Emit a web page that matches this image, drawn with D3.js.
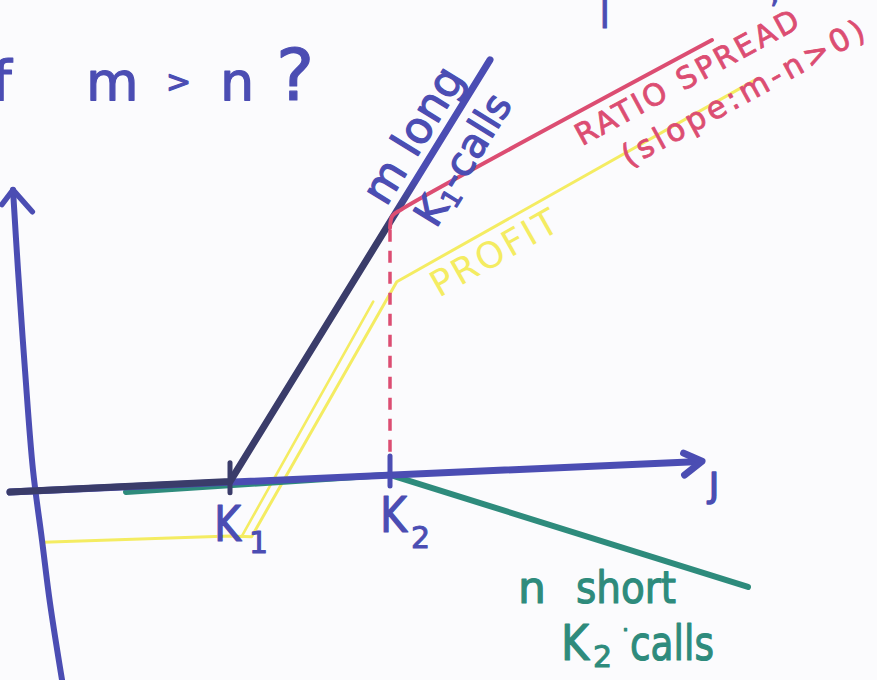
<!DOCTYPE html>
<html>
<head>
<meta charset="utf-8">
<script src="https://cdn.jsdelivr.net/npm/d3@7/dist/d3.min.js"></script>
<style>
  html, body { margin: 0; padding: 0; background: #fbfbfd; overflow: hidden; }
  svg { display: block; }
  text { font-family: "DejaVu Sans", "Noto Sans", sans-serif; }
</style>
</head>
<body>
<svg id="chart" width="877" height="680"></svg>
<script>
// ---- data: underlying price S on x, payoff on y, as [S, payoff] ----
const K1 = 50, K2 = 90;
const strikes = [K1, K2];
const strikeLabels = ["1", "2"];
const xAxisLine   = [[-5, 0], [167.5, 0.4]];
const yAxisLine   = [[-4.25, 75.5], [-3, 55.4], [-1.25, 30.3], [0.75, 5.25], [3, -12.35], [5, -28.2], [8, -47.5]];
const longCalls   = [[-5, 0], [50, 0.3], [115, 103]];
const shortCalls  = [[24, -1.2], [90, 0.3], [179.5, -31.5]];
const ratioSpread = [[90, 62], [90.6, 65], [93, 66.6], [170.5, 105.6]];
const spreadDrop  = [[90, 0.8], [90, 62]];
const profit      = [[3.3, -12.9], [50, -13.3], [55.4, -13.7], [91.7, 48.5], [181.3, 95.2]];
const profitTrace = [[52.9, -13.6], [85.8, 43.8]];
const tickSpan    = [-2.5, 5];

const blue = "#4b4db3", dark = "#3a3c6a", teal = "#2e8b7c", red = "#dc4d72", yellow = "#f4ec62";

const svg = d3.select("#chart");
const x = d3.scaleLinear().domain([0, 170]).range([30, 710]);
const y = d3.scaleLinear().domain([0, 100]).range([492.4, 92.4]);
// the hand-drawn S axis climbs slightly to the right
const tilt = -0.042;
const px = d => x(d[0]);
const py = d => y(d[1]) + tilt * x(d[0]);
const line = d3.line().x(px).y(py);

const defs = svg.append("defs");
function chevron(id, d, color, w) {
  defs.append("marker")
    .attr("id", id)
    .attr("markerUnits", "userSpaceOnUse")
    .attr("viewBox", "-40 -40 80 80")
    .attr("markerWidth", 80).attr("markerHeight", 80)
    .attr("refX", 0).attr("refY", 0)
    .attr("orient", "auto-start-reverse")
    .append("path")
    .attr("d", d)
    .attr("fill", "none")
    .attr("stroke", color)
    .attr("stroke-width", w)
    .attr("stroke-linecap", "round")
    .attr("stroke-linejoin", "round");
}
chevron("arrowS", "M-16,-9L2,0L-16,13", blue, 7);
chevron("arrowP", "M-14,-12L0,0L-23,18", blue, 5.5);

// long-call line darkens below the K2 level
const at = t => [longCalls[1][0] + (longCalls[2][0] - longCalls[1][0]) * t,
                 longCalls[1][1] + (longCalls[2][1] - longCalls[1][1]) * t];
const grad = defs.append("linearGradient")
  .attr("id", "longGrad")
  .attr("gradientUnits", "userSpaceOnUse")
  .attr("x1", 0).attr("x2", 0)
  .attr("y1", py(at(0.72)))
  .attr("y2", py(at(0.6)));
grad.append("stop").attr("offset", 0).attr("stop-color", blue);
grad.append("stop").attr("offset", 1).attr("stop-color", dark);

function path(data, color, w, extra) {
  const p = svg.append("path")
    .datum(data)
    .attr("d", line)
    .attr("fill", "none")
    .attr("stroke", color)
    .attr("stroke-width", w)
    .attr("stroke-linecap", "round")
    .attr("stroke-linejoin", "round");
  if (extra) extra(p);
  return p;
}

// profit (yellow)
path(profit, yellow, 3);
path(profitTrace, yellow, 2.6);

// short K2 calls
path(shortCalls, teal, 6);

// axes
path(xAxisLine, blue, 7, p => p.attr("marker-end", "url(#arrowS)"));
svg.append("path")
  .datum(yAxisLine)
  .attr("d", d3.line().x(px).y(py).curve(d3.curveCatmullRom))
  .attr("fill", "none")
  .attr("stroke", blue)
  .attr("stroke-width", 6)
  .attr("stroke-linecap", "round")
  .attr("marker-start", "url(#arrowP)");

// long K1 calls
path(longCalls, "url(#longGrad)", 7);

// ratio spread
path(spreadDrop, red, 3.5, p => p.attr("stroke-dasharray", "12 9").attr("stroke-linecap", "butt"));
svg.append("path")
  .datum(ratioSpread)
  .attr("d", d3.line().x(px).y(py).curve(d3.curveCatmullRom))
  .attr("fill", "none")
  .attr("stroke", red)
  .attr("stroke-width", 4)
  .attr("stroke-linecap", "round");

// strike ticks
svg.selectAll("line.tick")
  .data(strikes)
  .join("line")
  .attr("class", "tick")
  .attr("x1", k => px([k, tickSpan[1]])).attr("y1", k => py([k, tickSpan[1]]))
  .attr("x2", k => px([k, tickSpan[0]])).attr("y2", k => py([k, tickSpan[0]]))
  .attr("stroke", (k, i) => i === 0 ? dark : blue)
  .attr("stroke-width", 5)
  .attr("stroke-linecap", "round");

// ---- labels ----
function ink(sel, color, w) {
  return sel.attr("fill", color).attr("stroke", color)
    .attr("stroke-width", w).attr("stroke-linejoin", "round");
}

// label placed along a segment a→b at fraction t, shifted dy across it
function along(a, b, t, dy) {
  const x0 = px(a), y0 = py(a), x1 = px(b), y1 = py(b);
  const ang = Math.atan2(y1 - y0, x1 - x0) * 180 / Math.PI;
  const g = svg.append("g")
    .attr("transform", `translate(${x0 + (x1 - x0) * t},${y0 + (y1 - y0) * t}) rotate(${ang})`);
  return g.append("text").attr("y", dy);
}

ink(along(longCalls[1], longCalls[2], 0.636, -11), blue, 1.2)
  .attr("font-size", 44).text("m long");

{
  const t = ink(along(longCalls[1], longCalls[2], 0.652, 43), blue, 1.2).attr("font-size", 40);
  t.append("tspan").text("K");
  t.append("tspan").attr("font-size", 26).attr("dy", 6).text("1");
  t.append("tspan").attr("dy", -6).text("-calls");
}

ink(along(ratioSpread[2], ratioSpread[3], 0.533, 31), red, 0.8)
  .attr("font-size", 30).attr("textLength", 250).attr("lengthAdjust", "spacing")
  .text("RATIO SPREAD");
ink(along(ratioSpread[2], ratioSpread[3], 0.62, 72), red, 0.8)
  .attr("font-size", 31).attr("textLength", 272).attr("lengthAdjust", "spacing")
  .text("(slope:m-n>0)");

along(profit[3], profit[4], 0.07, 35)
  .attr("fill", yellow).attr("font-size", 36)
  .attr("font-family", "'Open Sans', Lato, sans-serif")
  .attr("textLength", 140).attr("lengthAdjust", "spacing")
  .text("PROFIT");

// strike labels under the S axis
strikes.forEach((k, i) => {
  const bx = px([k, 0]), by = py([k, 0]);
  ink(svg.append("text"), blue, 1.2)
    .attr("x", bx - (i === 0 ? 16 : 10)).attr("y", by + 58 - i * 2)
    .attr("font-size", 50).attr("textLength", 27).attr("lengthAdjust", "spacingAndGlyphs")
    .text("K");
  ink(svg.append("text"), blue, 1)
    .attr("x", bx + (i === 0 ? 19 : 21)).attr("y", by + (i === 0 ? 70 : 72))
    .attr("font-size", 30).text(strikeLabels[i]);
});

// axis name at the arrow
{
  const end = xAxisLine[xAxisLine.length - 1];
  ink(svg.append("text"), blue, 1.6)
    .attr("x", px(end) + 9).attr("y", py(end) + 36)
    .attr("font-size", 34).text("J");
}

// short-call caption
{
  const end = shortCalls[shortCalls.length - 1];
  const ex = px(end), ey = py(end);
  ink(svg.append("text"), teal, 1.2).attr("x", ex - 230).attr("y", ey + 16)
    .attr("font-size", 44).text("n");
  ink(svg.append("text"), teal, 1.2).attr("x", ex - 172).attr("y", ey + 16)
    .attr("font-size", 44).attr("textLength", 100).attr("lengthAdjust", "spacingAndGlyphs")
    .text("short");
  ink(svg.append("text"), teal, 1.2).attr("x", ex - 187).attr("y", ey + 73)
    .attr("font-size", 50).attr("textLength", 28).attr("lengthAdjust", "spacingAndGlyphs")
    .text("K");
  ink(svg.append("text"), teal, 1).attr("x", ex - 155).attr("y", ey + 80)
    .attr("font-size", 30).text("2");
  ink(svg.append("text"), teal, 1).attr("x", ex - 126).attr("y", ey + 50)
    .attr("font-size", 22).text("·");
  ink(svg.append("text"), teal, 1.2).attr("x", ex - 118).attr("y", ey + 73)
    .attr("font-size", 48).attr("textLength", 84).attr("lengthAdjust", "spacingAndGlyphs")
    .text("calls");
}

// heading
ink(svg.append("text"), blue, 1.2).attr("x", -8).attr("y", 100).attr("font-size", 56).text("f");
ink(svg.append("text"), blue, 1.2).attr("x", 86).attr("y", 100).attr("font-size", 54).text("m");
ink(svg.append("text"), blue, 1.2).attr("x", 166).attr("y", 92).attr("font-size", 30).text(">");
ink(svg.append("text"), blue, 1.2).attr("x", 220).attr("y", 100).attr("font-size", 54).text("n");
ink(svg.append("text"), blue, 1.2).attr("x", 276).attr("y", 100).attr("font-size", 72).text("?");
ink(svg.append("text"), blue, 1).attr("x", 598).attr("y", 18).attr("font-size", 40).text("|");
ink(svg.append("text"), blue, 0.8).attr("x", 770).attr("y", 2).attr("font-size", 30).text(",");
</script>
</body>
</html>
